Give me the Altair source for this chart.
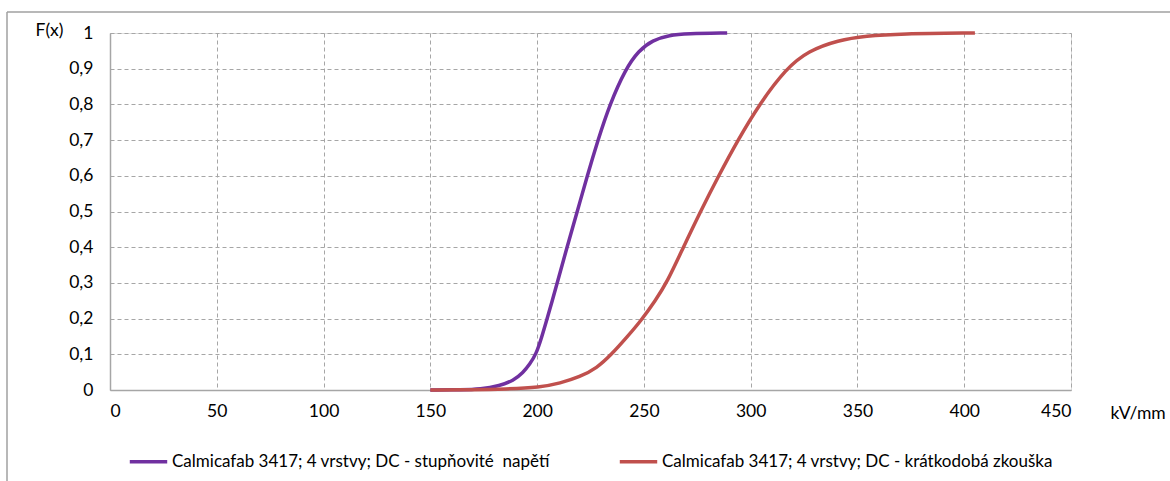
import altair as alt
import pandas as pd

s1_name = "Calmicafab 3417; 4 vrstvy; DC - stupňovité \u00a0napětí"
s2_name = "Calmicafab 3417; 4 vrstvy; DC - krátkodobá zkouška"

s1_x = [150, 165, 173.3, 182.6, 188.8, 193.5, 196.6, 199.5, 202.1, 204.5, 207.1, 209.4, 214, 218.8, 223.5, 228.5, 234, 241.5, 247.5, 254, 262, 270, 289]
s1_f = [0, 0.0005, 0.002, 0.012, 0.026, 0.049, 0.073, 0.1, 0.147, 0.196, 0.25, 0.3, 0.4, 0.5, 0.6, 0.7, 0.8, 0.9, 0.95, 0.98, 0.994, 0.998, 1.0]

s2_x = [150, 170, 185, 201.4, 210.7, 220.1, 227.9, 234.9, 241.9, 248.9, 255.3, 260.7, 268.5, 276.5, 285, 294, 304, 316.5, 327, 341, 354, 370, 405]
s2_f = [0, 0.0008, 0.0025, 0.0076, 0.019, 0.037, 0.061, 0.1, 0.147, 0.196, 0.25, 0.3, 0.4, 0.5, 0.6, 0.7, 0.8, 0.9, 0.95, 0.98, 0.992, 0.998, 1.0]

x_ticks = [0, 50, 100, 150, 200, 250, 300, 350, 400, 450]
y_ticks = [0, 0.1, 0.2, 0.3, 0.4, 0.5, 0.6, 0.7, 0.8, 0.9, 1]

df = pd.concat([
    pd.DataFrame({"x": s1_x, "F": s1_f, "s": s1_name, "o": 0}),
    pd.DataFrame({"x": s2_x, "F": s2_f, "s": s2_name, "o": 1}),
])

FONT = "Lato"
FS = 17.5
W, H = 961, 357

lines = alt.Chart(df).mark_line(strokeWidth=3.5, interpolate="basis").encode(
    x=alt.X("x:Q", scale=alt.Scale(domain=[0, 450], nice=False),
            axis=alt.Axis(values=x_ticks, title="kV/mm", titleAngle=0, titleX=1000, titleY=23,
                          titleAlign="left", titleBaseline="middle", titleFontWeight="normal",
                          titleFontSize=FS, titleFont=FONT, labelFontSize=FS, labelFont=FONT,
                          labelColor="#000000", titleColor="#000000",
                          labelPadding=12, tickSize=0, domainColor="#a6a6a6", domainWidth=1.5,
                          gridColor="#a6a6a6", gridDash=[4, 3], gridWidth=1)),
    y=alt.Y("F:Q", scale=alt.Scale(domain=[0, 1], nice=False),
            axis=alt.Axis(values=y_ticks, title="F(x)", titleAngle=0, titleX=-75, titleY=-3,
                          titleAlign="left", titleBaseline="middle", titleFontWeight="normal",
                          titleFontSize=FS, titleFont=FONT, labelFontSize=FS, labelFont=FONT,
                          labelColor="#000000", titleColor="#000000",
                          labelExpr="replace(format(datum.value, '~g'), '.', ',')",
                          labelPadding=17, tickSize=0, domainColor="#a6a6a6", domainWidth=1.5,
                          gridColor="#a6a6a6", gridDash=[4, 3], gridWidth=1)),
    color=alt.Color("s:N", scale=alt.Scale(domain=[s1_name, s2_name], range=["#7030A0", "#C0504D"]),
                    legend=alt.Legend(title=None, orient="none", legendX=18, legendY=408,
                                      direction="horizontal", symbolType="stroke", symbolSize=1400,
                                      symbolStrokeWidth=3.5, labelFontSize=17, labelFont=FONT,
                                      labelColor="#000000", labelOffset=3, columnPadding=62,
                                      labelLimit=600)),
    order="o:Q",
    detail="s:N",
)

border_top = alt.Chart(pd.DataFrame({"a": [0]})).mark_rule(color="#a0a0a0", strokeWidth=1.5).encode(
    x=alt.value(-103), x2=alt.value(1070), y=alt.value(-21))
border_left = alt.Chart(pd.DataFrame({"a": [0]})).mark_rule(color="#a0a0a0", strokeWidth=1.5).encode(
    x=alt.value(-103), y=alt.value(-21), y2=alt.value(460))

chart = alt.layer(lines, border_top, border_left).properties(
    width=W, height=H,
    autosize=alt.AutoSizeParams(type="none"),
    padding={"left": 110, "top": 33, "right": 99, "bottom": 91},
).configure_view(stroke=None).configure(background="white")

chart.save("out.html", embed_options={"renderer": "svg", "actions": False})
